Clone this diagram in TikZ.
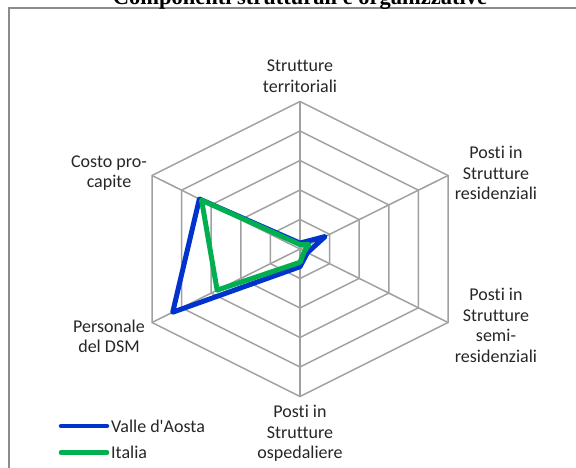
\documentclass[tikz,border=0pt]{standalone}
\usepackage{fontspec}
\setmainfont{Carlito}
\newfontfamily\lblfont{Carlito}[Ligatures=NoCommon]
\newfontfamily\titlefont{Liberation Serif}
\usetikzlibrary{calc}
\definecolor{gridgray}{HTML}{A0A0A0}
\definecolor{framegray}{HTML}{8C8C8C}
\definecolor{vdablue}{HTML}{0033CC}
\definecolor{itgreen}{HTML}{00B050}
\begin{document}
\begin{tikzpicture}[x=1pt,y=-1pt,
  gridline/.style={draw=gridgray, line width=1.5pt},
  series/.style={line width=5pt, line join=round},
  legline/.style={line width=4.5pt, line cap=round},
  lbl/.style={font=\lblfont\fontsize{18}{20.5}\selectfont, align=center, text=black!85, inner sep=0pt},
  legtxt/.style={font=\lblfont\fontsize{18}{20.5}\selectfont, text=black!85, inner sep=0pt, anchor=west}]
\useasboundingbox (0,0) rectangle (576,468);
\clip (0,0) rectangle (576,468);
% frame
\coordinate (fbl) at (8.5,480);
\coordinate (ftl) at (8.5,8);
\coordinate (ftr) at (590,8);
\draw[framegray, line width=2pt] (fbl) -- (ftl) -- (ftr);
% title
\node[font=\titlefont\bfseries\fontsize{22.5}{27}\selectfont, anchor=base, inner sep=0pt] (title) at (300,4.5) {Componenti strutturali e organizzative};
% axes
\coordinate (c) at (300,249);
\coordinate (a1) at (300,101.5);
\coordinate (a2) at (448,175.5);
\coordinate (a3) at (448,322.5);
\coordinate (a4) at (300,396.5);
\coordinate (a5) at (152,322.5);
\coordinate (a6) at (152,175.5);
\foreach \k in {1,...,5}{
  \draw[gridline] ($(c)!\k/5!(a1)$) -- ($(c)!\k/5!(a2)$) -- ($(c)!\k/5!(a3)$) -- ($(c)!\k/5!(a4)$) -- ($(c)!\k/5!(a5)$) -- ($(c)!\k/5!(a6)$) -- cycle;
}
\foreach \i in {1,...,6}{
  \draw[gridline] (c) -- (a\i);
}
% series
\draw[series, vdablue] ($(c)!0.04!(a1)$) -- ($(c)!0.17!(a2)$) -- ($(c)!0.05!(a3)$) -- ($(c)!0.12!(a4)$) -- ($(c)!0.86!(a5)$) -- ($(c)!0.68!(a6)$) -- cycle;
\draw[series, itgreen] ($(c)!0.03!(a1)$) -- ($(c)!0.06!(a2)$) -- ($(c)!0.03!(a3)$) -- ($(c)!0.09!(a4)$) -- ($(c)!0.56!(a5)$) -- ($(c)!0.665!(a6)$) -- cycle;
% labels
\node[lbl] (l1) at (300,76) {Strutture\\territoriali};
\node[lbl] (l2) at (496,173) {Posti in\\Strutture\\residenziali};
\node[lbl] (l3) at (496,325.5) {Posti in\\Strutture\\semi-\\residenziali};
\node[lbl] (l4) at (300,433.5) {Posti in\\Strutture\\ospedaliere};
\node[lbl] (l5) at (109,173) {Costo pro-\\capite};
\node[lbl] (l6) at (109,336.5) {Personale\\del DSM};
% legend
\coordinate (lb1) at (61,426);
\coordinate (lb2) at (107,426);
\coordinate (lg1) at (61,452.5);
\coordinate (lg2) at (107,452.5);
\draw[legline, vdablue] (lb1) -- (lb2);
\draw[legline, itgreen] (lg1) -- (lg2);
\node[legtxt] (t1) at (111,426) {Valle d'Aosta};
\node[legtxt] (t2) at (111,452.5) {Italia};
\end{tikzpicture}
\end{document}
